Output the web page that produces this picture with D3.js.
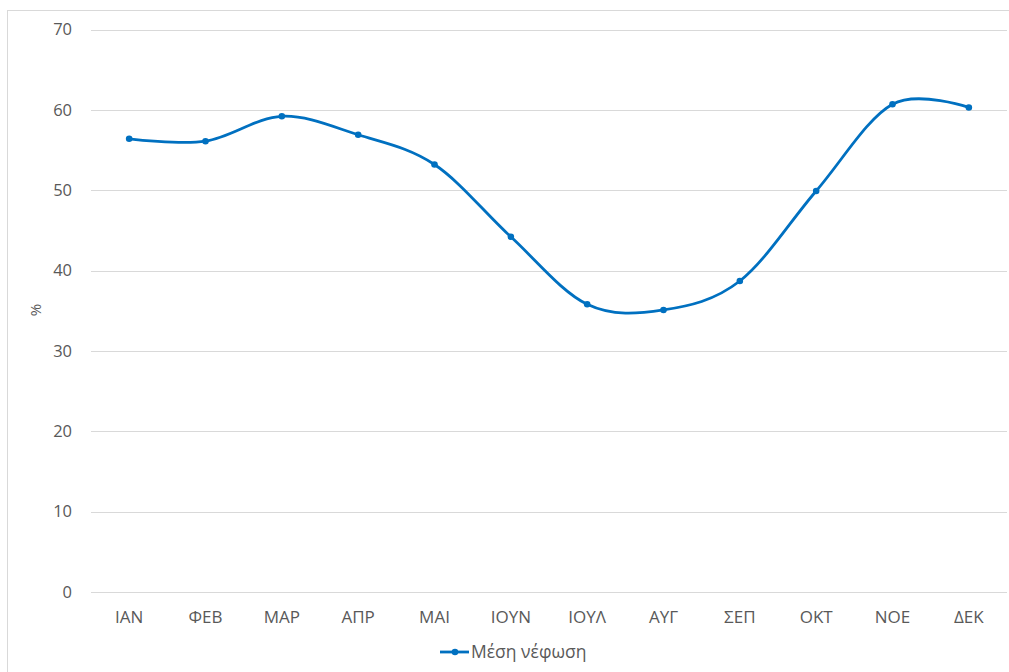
<!DOCTYPE html>
<html><head><meta charset="utf-8">
<script src="https://cdn.jsdelivr.net/npm/d3@7"></script>
<style>body{margin:0;background:#fff}svg{display:block}text{font-family:"Open Sans","Noto Sans",sans-serif;fill:#595959}</style>
</head><body><svg id="c" width="1009" height="672"></svg>
<script>
const categories = ["ΙΑΝ","ΦΕΒ","ΜΑΡ","ΑΠΡ","ΜΑΙ","ΙΟΥΝ","ΙΟΥΛ","ΑΥΓ","ΣΕΠ","ΟΚΤ","ΝΟΕ","ΔΕΚ"];
const cloudiness = [56.4,56.1,59.2,56.9,53.2,44.2,35.8,35.1,38.7,49.9,60.7,60.3];
const yTicks = [0,10,20,30,40,50,60,70];
const seriesName = "Μέση νέφωση";
const yLabel = "%";

const svg = d3.select("#c");
const color = "#0070C0";
svg.append("rect").attr("x",7.5).attr("y",10.5).attr("width",1010).attr("height",700)
  .attr("fill","none").attr("stroke","#d9d9d9");

const x = d3.scaleBand().domain(categories).range([91,1007]);
const y = d3.scaleLinear().domain([0,70]).range([592,29.5]);

const g = svg.append("g");
g.selectAll("line.grid").data(yTicks).join("line")
  .attr("x1",91).attr("x2",1007)
  .attr("y1",d=>Math.round(y(d))+0.5).attr("y2",d=>Math.round(y(d))+0.5)
  .attr("stroke","#d9d9d9").attr("stroke-width",1);

const yAxis = svg.append("g").attr("transform","translate(72,0)")
  .call(d3.axisLeft(y).tickValues(yTicks).tickSize(0).tickPadding(0));
yAxis.select(".domain").remove();
yAxis.selectAll("text").attr("font-size",16.5).style("fill","#595959").attr("dy","0.32em");

const xAxis = svg.append("g").attr("transform","translate(0,617)")
  .call(d3.axisBottom(x).tickSize(0).tickPadding(0));
xAxis.select(".domain").remove();
xAxis.selectAll("text").attr("font-size",17).style("fill","#595959").attr("dy","0.35em");

svg.append("text").attr("transform","translate(36,310) rotate(-90)")
  .attr("text-anchor","middle").attr("dy","0.35em").attr("font-size",15).text(yLabel);

const pts = categories.map((c,i)=>[x(c)+x.bandwidth()/2, y(cloudiness[i])]);
svg.append("path").attr("d", d3.line().curve(d3.curveCatmullRom.alpha(0))(pts))
  .attr("fill","none").attr("stroke",color).attr("stroke-width",2.8).attr("stroke-linecap","round");
svg.selectAll("circle.pt").data(pts).join("circle")
  .attr("cx",d=>d[0]).attr("cy",d=>d[1]).attr("r",3.3).attr("fill",color);

const lg = svg.append("g");
lg.append("line").attr("x1",440).attr("x2",469).attr("y1",652).attr("y2",652)
  .attr("stroke",color).attr("stroke-width",2.8);
lg.append("circle").attr("cx",455).attr("cy",652).attr("r",3.3).attr("fill",color);
lg.append("text").attr("x",471).attr("y",652).attr("dy","0.35em").attr("font-size",17.5).text(seriesName);
</script></body></html>
